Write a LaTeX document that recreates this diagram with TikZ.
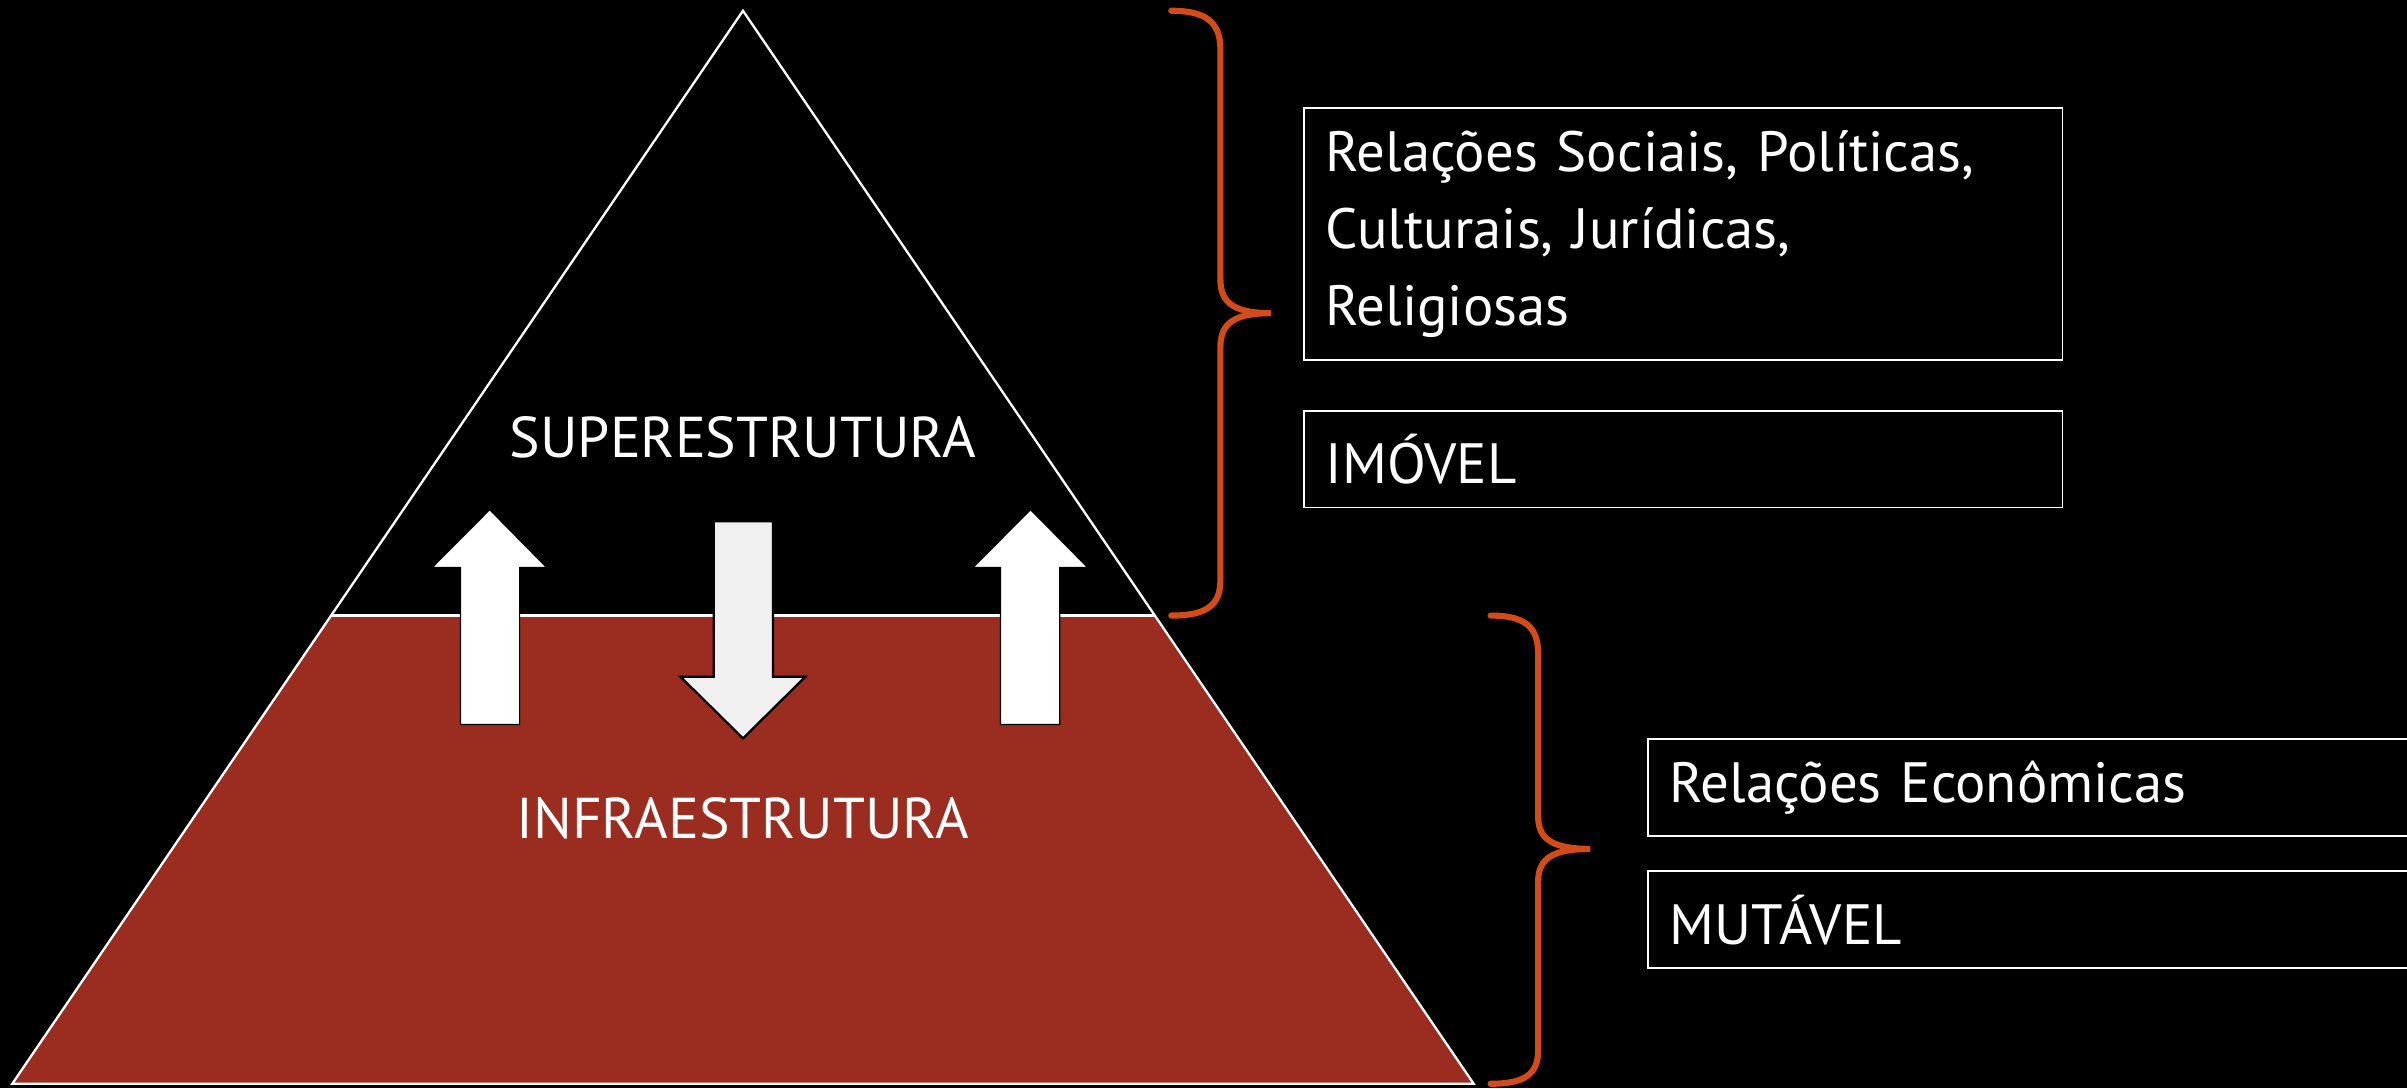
\documentclass[tikz,border=0pt]{standalone}
\usepackage{fontspec}
\setmainfont{PT Sans}
\definecolor{infra}{RGB}{155,45,32}
\definecolor{brace}{RGB}{210,75,25}
\definecolor{downfill}{RGB}{240,240,240}
\tikzset{
  pyr/.style={draw=white, line width=1.5pt},
  uparrow/.style={fill=white, draw=black, line width=0.8pt},
  downarrow/.style={fill=downfill, draw=black, line width=1.5pt},
  bracepath/.style={draw=brace, line width=4pt, line cap=round},
  lbl/.style={text=white, font=\fontsize{37.5}{42}\selectfont, inner sep=0pt},
  infobox/.style={draw=white, line width=1.2pt, text=white, align=left, anchor=north west,
    font=\fontsize{37}{50}\selectfont, inner xsep=14pt, inner ysep=0pt},
}
\begin{document}
\begin{tikzpicture}[x=1pt,y=-1pt]
\useasboundingbox (0,0) rectangle (1568,709);
\clip (0,0) rectangle (1568,709);
\fill[black] (0,0) rectangle (1568,709);
% pyramid
\coordinate (apex) at (484,7);
\coordinate (bl) at (8,706);
\coordinate (br) at (960,706);
\coordinate (ml) at (215.7,401);
\coordinate (mr) at (752.3,401);
\fill[infra] (ml) -- (mr) -- (br) -- (bl) -- cycle;
\draw[pyr] (apex) -- (br) -- (bl) -- cycle;
\draw[pyr] (ml) -- (mr);
% arrows
\draw[uparrow] (300,472) -- (300,369.6) -- (281.6,369.6) -- (319,332) -- (356,369.6) -- (338.5,369.6) -- (338.5,472) -- cycle;
\draw[uparrow] (651.7,472) -- (651.7,369.6) -- (634,369.6) -- (671.3,332) -- (708.5,369.6) -- (690.4,369.6) -- (690.4,472) -- cycle;
\draw[downarrow] (465,339.6) -- (503.5,339.6) -- (503.5,440.8) -- (524.7,440.8) -- (484,481) -- (443.2,440.8) -- (465,440.8) -- cycle;
% labels
\node[lbl] (sup) at (484,285) {SUPERESTRUTURA};
\node[lbl] (inf) at (484,533) {INFRAESTRUTURA};
% braces
\draw[bracepath] (763,7) .. controls (785,7) and (795,14) .. (795,32) -- (795,182)
  .. controls (795,198) and (805,204) .. (828,204)
  .. controls (805,204) and (795,210) .. (795,226) -- (795,378)
  .. controls (795,395) and (785,401) .. (763,401);
\draw[bracepath] (971,401) .. controls (993,401) and (1002,408) .. (1002,426) -- (1002,532)
  .. controls (1002,547) and (1012,553) .. (1036,553)
  .. controls (1012,553) and (1002,559) .. (1002,574) -- (1002,684)
  .. controls (1002,700) and (993,706) .. (971,706);
% boxes
\node[infobox, minimum width=494pt, minimum height=164pt, text width=466pt] (b1) at (849,70)
  {Relações Sociais, Políticas,\\Culturais, Jurídicas,\\Religiosas};
\node[infobox, minimum width=494pt, minimum height=63pt, text width=466pt] (b2) at (849,267) {IMÓVEL};
\node[infobox, minimum width=560pt, minimum height=63pt, text width=532pt] (b3) at (1073,481) {Relações Econômicas};
\node[infobox, minimum width=560pt, minimum height=63pt, text width=532pt] (b4) at (1073,567) {MUTÁVEL};
\end{tikzpicture}
\end{document}
